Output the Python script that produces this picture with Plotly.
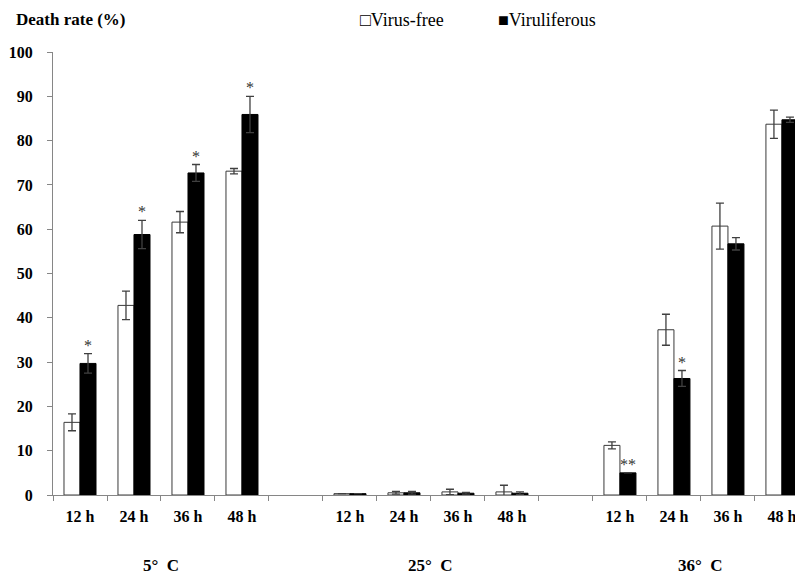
import plotly.graph_objects as go

# ---- data ----
groups = ["5°\u00a0\u00a0C", "25°\u00a0\u00a0C", "36°\u00a0\u00a0C"]
hours = ["12 h", "24 h", "36 h", "48 h"]
virus_free = [16.4, 42.8, 61.6, 73.1, 0.3, 0.5, 0.7, 0.7, 11.2, 37.3, 60.7, 83.7]
virus_free_err = [1.9, 3.2, 2.4, 0.6, 0.0, 0.3, 0.6, 1.5, 0.8, 3.5, 5.2, 3.2]
viruliferous = [29.7, 58.8, 72.7, 85.9, 0.3, 0.5, 0.4, 0.4, 5.0, 26.3, 56.7, 84.7]
viruliferous_err = [2.2, 3.2, 1.9, 4.1, 0.0, 0.3, 0.2, 0.3, 0.0, 1.8, 1.4, 0.6]
signif = ["*", "*", "*", "*", "", "", "", "", "**", "*", "", ""]

# category slots: 4 hours per group, one empty slot between groups
slots_per_group = len(hours) + 1
xpos = [g * slots_per_group + h for g in range(len(groups)) for h in range(len(hours))]
ticktext = [hours[h] for g in range(len(groups)) for h in range(len(hours))]
n_slots = len(groups) * slots_per_group - 1

SERIF = "Liberation Serif, Times New Roman, serif"
AXIS = "#868686"
ERR = "#404040"
BARGAP = 0.407

# page body has an 8px default margin: compensate so the plot lands where the reference has it
SHIFT = 8
L, T = 53 - SHIFT, 52 - SHIFT
PW, PH = 750, 443
W, H = 803, 575
R = W - L - PW
B = H - T - PH

fig = go.Figure()
fig.add_trace(go.Bar(
    x=xpos, y=virus_free, name="Virus-free",
    marker=dict(color="white", line=dict(color="#3a3a3a", width=1)),
    error_y=dict(type="data", array=virus_free_err, color=ERR, thickness=1.3, width=4),
))
fig.add_trace(go.Bar(
    x=xpos, y=viruliferous, name="Viruliferous",
    marker=dict(color="black", line=dict(color="black", width=1)),
    error_y=dict(type="data", array=viruliferous_err, color=ERR, thickness=1.3, width=4),
))

off = (1 - BARGAP) / 4
annotations = []
for x, v, e, s in zip(xpos, viruliferous, viruliferous_err, signif):
    if s:
        annotations.append(dict(
            x=x + off, y=v + e, xref="x", yref="y", text=s, showarrow=False,
            yanchor="bottom", yshift=-2,
            font=dict(family=SERIF, size=16, color="#333333"),
        ))

# positions below in reference pixel coords (plot area: x 53..803, y 52..495)
def px_to_paper_y(py):
    return (495 - py) / PH

def px_to_paper_x(px):
    return (px - 53) / PW

for g, label in enumerate(groups):
    center = g * slots_per_group + (len(hours) - 1) / 2
    annotations.append(dict(
        x=center, y=px_to_paper_y(565), xref="x", yref="paper", text=label,
        showarrow=False, yanchor="middle",
        font=dict(family=SERIF, size=17, color="black", weight="bold"),
    ))

annotations.append(dict(
    x=px_to_paper_x(14), y=px_to_paper_y(19), xref="paper", yref="paper",
    text="Death rate (%)", showarrow=False, xanchor="left", yanchor="middle",
    font=dict(family=SERIF, size=17, color="black", weight="bold"),
))
annotations.append(dict(
    x=px_to_paper_x(358), y=px_to_paper_y(20), xref="paper", yref="paper",
    text="□Virus-free", showarrow=False, xanchor="left", yanchor="middle",
    font=dict(family=SERIF, size=18, color="black"),
))
annotations.append(dict(
    x=px_to_paper_x(496), y=px_to_paper_y(20), xref="paper", yref="paper",
    text="■Viruliferous", showarrow=False, xanchor="left", yanchor="middle",
    font=dict(family=SERIF, size=18, color="black"),
))

fig.update_layout(
    width=W, height=H,
    margin=dict(l=L, r=R, t=T, b=B, pad=0, autoexpand=False),
    paper_bgcolor="white", plot_bgcolor="white",
    barmode="group", bargap=BARGAP, bargroupgap=0,
    showlegend=False,
    annotations=annotations,
    font=dict(family=SERIF),
    xaxis=dict(
        range=[-0.5, n_slots - 0.61], automargin=False,
        tickmode="array", tickvals=xpos, ticktext=ticktext,
        ticks="outside", ticklen=0, ticklabelstandoff=7,
        tickfont=dict(family=SERIF, size=16, color="black", weight="bold"),
        showline=True, linecolor=AXIS, linewidth=1,
        showgrid=False, zeroline=False,
        minor=dict(tickmode="linear", tick0=-0.5, dtick=1, ticks="outside",
                   ticklen=5, tickcolor=AXIS, tickwidth=1, showgrid=False),
    ),
    yaxis=dict(
        range=[0, 100], automargin=False,
        tickmode="linear", tick0=0, dtick=10,
        ticks="outside", ticklen=5, tickcolor=AXIS, tickwidth=1,
        ticklabelstandoff=11,
        tickfont=dict(family=SERIF, size=16, color="black", weight="bold"),
        showline=True, linecolor=AXIS, linewidth=1,
        showgrid=False, zeroline=False,
    ),
)

fig.write_html("out.html")
